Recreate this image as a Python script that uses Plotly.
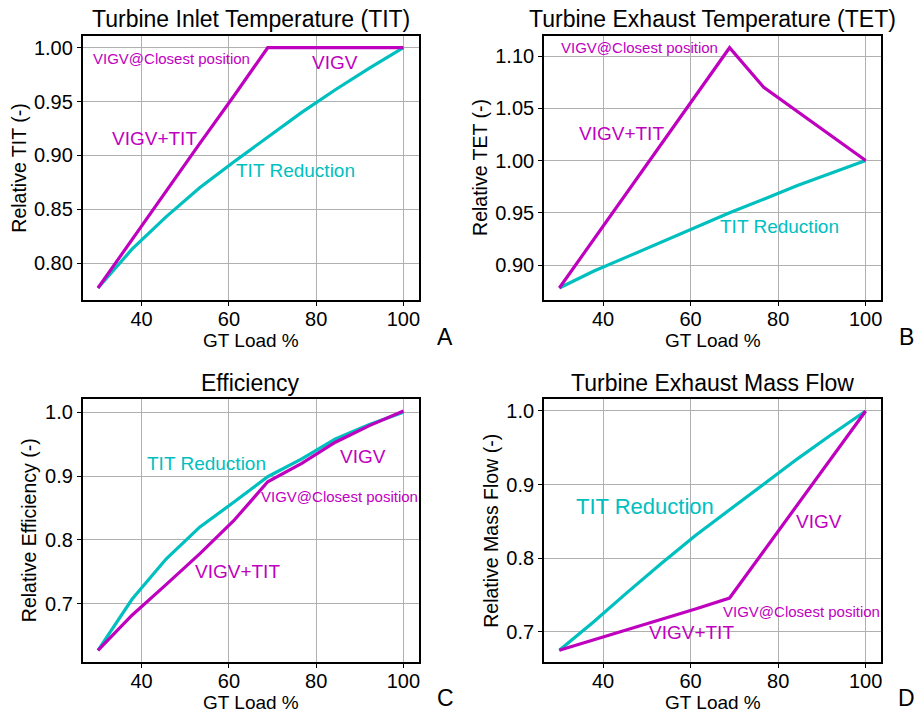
import plotly.graph_objects as go

# GT load points (%)
load = [30, 37.8, 45.6, 53.3, 61.1, 68.9, 76.7, 84.4, 92.2, 100]

# Relative turbine inlet temperature
tit_red_tit = [0.777, 0.813, 0.843, 0.870, 0.894, 0.917, 0.940, 0.961, 0.981, 1.0]
vigv_tit = [0.777, 0.822, 0.866, 0.911, 0.955, 1.0, 1.0, 1.0, 1.0, 1.0]

# Relative turbine exhaust temperature
tit_red_tet = [0.878, 0.894, 0.908, 0.922, 0.936, 0.950, 0.963, 0.976, 0.988, 1.0]
vigv_tet = [0.878, 0.924, 0.970, 1.016, 1.062, 1.108, 1.070, 1.047, 1.023, 1.0]

# Relative efficiency
tit_red_eff = [0.627, 0.707, 0.770, 0.820, 0.859, 0.899, 0.927, 0.958, 0.981, 1.0]
vigv_eff = [0.627, 0.682, 0.730, 0.778, 0.830, 0.891, 0.920, 0.953, 0.979, 1.002]

# Relative exhaust mass flow
tit_red_mf = [0.675, 0.7135, 0.754, 0.793, 0.831, 0.866, 0.901, 0.935, 0.968, 1.0]
vigv_mf = [0.675, 0.689, 0.703, 0.717, 0.731, 0.746, 0.810, 0.873, 0.936, 1.0]

panel_titles = ["Turbine Inlet Temperature (TIT)", "Turbine Exhaust Temperature (TET)",
                "Efficiency", "Turbine Exhaust Mass Flow"]
y_titles = ["Relative TIT (-)", "Relative TET (-)", "Relative Efficiency (-)", "Relative Mass Flow (-)"]
panel_letters = ["A", "B", "C", "D"]
x_title = "GT Load %"

x_tickvals = [40, 60, 80, 100]
y_tickvals = [
    [0.80, 0.85, 0.90, 0.95, 1.00],
    [0.90, 0.95, 1.00, 1.05, 1.10],
    [0.7, 0.8, 0.9, 1.0],
    [0.7, 0.8, 0.9, 1.0],
]
y_tickfmt = [".2f", ".2f", ".1f", ".1f"]

CYAN = "#00BFBF"
MAGENTA = "#BF00BF"
FONT = "Liberation Sans, Arial, sans-serif"

W, H = 915, 713

# plot-area boxes in pixels: (left, top, right, bottom)
boxes = [
    (82.7, 35.7, 418.7, 300.0),
    (544.0, 35.7, 881.0, 300.0),
    (82.7, 399.0, 418.7, 662.3),
    (544.0, 399.0, 881.0, 662.3),
]

series = [
    (tit_red_tit, vigv_tit),
    (tit_red_tet, vigv_tet),
    (tit_red_eff, vigv_eff),
    (tit_red_mf, vigv_mf),
]

# in-plot labels: (text, x, y, colour, size)
labels = [
    [("VIGV@Closest position", 28.66, 0.9897, MAGENTA, 15),
     ("VIGV", 78.85, 0.9866, MAGENTA, 19),
     ("VIGV+TIT", 32.87, 0.916, MAGENTA, 19),
     ("TIT Reduction", 61.38, 0.886, CYAN, 19)],
    [("VIGV@Closest position", 30.05, 1.1083, MAGENTA, 15),
     ("VIGV+TIT", 34.3, 1.0263, MAGENTA, 19),
     ("TIT Reduction", 66.5, 0.9369, CYAN, 19)],
    [("TIT Reduction", 41.07, 0.920, CYAN, 19),
     ("VIGV", 85.13, 0.9303, MAGENTA, 19),
     ("VIGV@Closest position", 67.13, 0.8676, MAGENTA, 15),
     ("VIGV+TIT", 52.03, 0.7503, MAGENTA, 19)],
    [("TIT Reduction", 33.55, 0.8697, CYAN, 22),
     ("VIGV", 83.96, 0.8494, MAGENTA, 19),
     ("VIGV@Closest position", 67.1, 0.7271, MAGENTA, 15),
     ("VIGV+TIT", 50.25, 0.6994, MAGENTA, 19)],
]

# centre x (px) of rotated y-axis titles
ytitle_x = [18.8, 480.1, 28.5, 491.1]
# cap-centre y (px) of panel titles and x-axis titles
title_y = [19.5, 19.5, 382.8, 382.8]
xtitle_y = [340.5, 340.5, 702.2, 702.2]
letter_pos = [(445, 337), (906, 337), (445, 698), (906, 698)]


def px(x):
    return x / W


def py(y):
    return 1 - y / H


def padded(vals_a, vals_b, frac=0.05):
    lo = min(min(vals_a), min(vals_b))
    hi = max(max(vals_a), max(vals_b))
    d = (hi - lo) * frac
    return [lo - d, hi + d]


fig = go.Figure()
layout = dict(
    width=W, height=H,
    margin=dict(l=0, r=0, t=0, b=0),
    paper_bgcolor="white", plot_bgcolor="white",
    showlegend=False,
    font=dict(family=FONT, color="black", size=19),
)
annotations = []

xlo, xhi = min(load), max(load)
xpad = (xhi - xlo) * 0.05

for i in range(4):
    n = "" if i == 0 else str(i + 1)
    xa, ya = "x" + n, "y" + n
    l, t, r, b = boxes[i]
    cyan_vals, mag_vals = series[i]

    fig.add_trace(go.Scatter(x=load, y=cyan_vals, mode="lines", xaxis=xa, yaxis=ya,
                             line=dict(color=CYAN, width=3.2)))
    fig.add_trace(go.Scatter(x=load, y=mag_vals, mode="lines", xaxis=xa, yaxis=ya,
                             line=dict(color=MAGENTA, width=3.2)))

    axis_common = dict(
        showline=True, mirror=True, linecolor="black", linewidth=1.7,
        showgrid=True, gridcolor="#b0b0b0", gridwidth=1.4,
        ticks="outside", ticklen=4, tickwidth=1.3, tickcolor="black",
        tickfont=dict(family=FONT, size=20, color="black"),
        zeroline=False,
    )
    layout["xaxis" + n] = dict(
        axis_common, domain=[px(l), px(r)], anchor=ya,
        range=[xlo - xpad, xhi + xpad], tickvals=x_tickvals,
        ticklabelstandoff=-4,
    )
    layout["yaxis" + n] = dict(
        axis_common, domain=[py(b), py(t)], anchor=xa,
        range=padded(cyan_vals, mag_vals), tickvals=y_tickvals[i],
        tickformat=y_tickfmt[i],
    )

    cx = (l + r) / 2
    cy = (t + b) / 2
    annotations.append(dict(text=panel_titles[i], x=px(cx), y=py(title_y[i]),
                            xref="paper", yref="paper", xanchor="center", yanchor="middle",
                            showarrow=False, borderpad=0,
                            font=dict(family=FONT, size=23, color="black")))
    annotations.append(dict(text=x_title, x=px(cx), y=py(xtitle_y[i]),
                            xref="paper", yref="paper", xanchor="center", yanchor="middle",
                            showarrow=False, borderpad=0,
                            font=dict(family=FONT, size=19, color="black")))
    annotations.append(dict(text=y_titles[i], x=px(ytitle_x[i]), y=py(cy), textangle=-90,
                            xref="paper", yref="paper", xanchor="center", yanchor="middle",
                            showarrow=False, borderpad=0,
                            font=dict(family=FONT, size=19.5, color="black")))
    lx, ly = letter_pos[i]
    annotations.append(dict(text=panel_letters[i], x=px(lx), y=py(ly),
                            xref="paper", yref="paper", xanchor="center", yanchor="middle",
                            showarrow=False, borderpad=0,
                            font=dict(family=FONT, size=23, color="black")))

    for text, tx, ty, col, size in labels[i]:
        annotations.append(dict(text=text, x=tx, y=ty, xref=xa, yref=ya,
                                xanchor="left", yanchor="middle", showarrow=False,
                                borderpad=0,
                                font=dict(family=FONT, size=size, color=col)))

layout["annotations"] = annotations
fig.update_layout(**layout)
fig.write_html("out.html")
